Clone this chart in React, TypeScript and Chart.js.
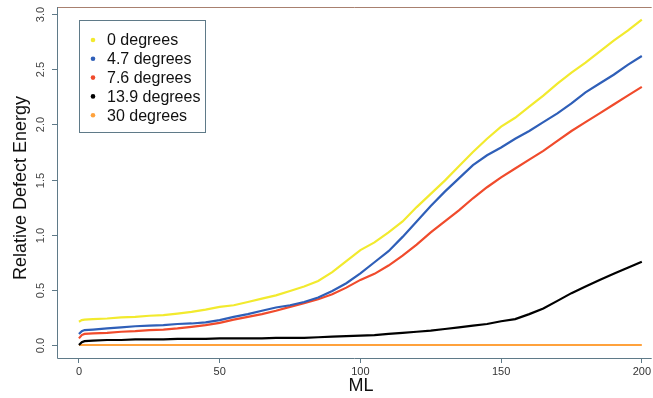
import React, { useEffect, useRef } from "react";
import { Chart, registerables } from "chart.js";

Chart.register(...registerables);

const FONT = "'Liberation Sans', Arial, Helvetica, sans-serif";

const ML = [0, 1, 2, 5, 10, 15, 20, 25, 30, 35, 40, 45, 50, 55, 60, 65, 70, 75, 80, 85, 90, 95, 100,
  105, 110, 115, 120, 125, 130, 135, 140, 145, 150, 155, 160, 165, 170, 175, 180, 185, 190, 195, 200];

const DEG_0 = [0.21, 0.225, 0.23, 0.235, 0.24, 0.25, 0.255, 0.265, 0.27, 0.285, 0.3, 0.32, 0.345, 0.36,
  0.39, 0.42, 0.45, 0.49, 0.53, 0.58, 0.66, 0.76, 0.86, 0.93, 1.02, 1.12, 1.25, 1.37, 1.49, 1.62, 1.75,
  1.87, 1.98, 2.06, 2.16, 2.26, 2.37, 2.47, 2.56, 2.66, 2.76, 2.85, 2.95];

const DEG_4_7 = [0.1, 0.125, 0.135, 0.14, 0.15, 0.16, 0.17, 0.175, 0.18, 0.19, 0.195, 0.205, 0.225, 0.255,
  0.28, 0.31, 0.34, 0.36, 0.39, 0.43, 0.49, 0.56, 0.65, 0.75, 0.85, 0.98, 1.12, 1.26, 1.39, 1.51, 1.63,
  1.72, 1.79, 1.87, 1.94, 2.02, 2.1, 2.19, 2.29, 2.37, 2.45, 2.54, 2.62];

const DEG_7_6 = [0.06, 0.09, 0.1, 0.105, 0.11, 0.12, 0.125, 0.135, 0.14, 0.15, 0.165, 0.18, 0.2, 0.23,
  0.255, 0.28, 0.31, 0.345, 0.38, 0.415, 0.46, 0.52, 0.59, 0.645, 0.72, 0.81, 0.91, 1.02, 1.12, 1.22,
  1.33, 1.43, 1.52, 1.6, 1.68, 1.76, 1.85, 1.94, 2.02, 2.1, 2.18, 2.26, 2.34];

const DEG_13_9 = [0.0, 0.025, 0.035, 0.04, 0.045, 0.045, 0.05, 0.05, 0.05, 0.055, 0.055, 0.055, 0.06,
  0.06, 0.06, 0.06, 0.065, 0.065, 0.065, 0.07, 0.075, 0.08, 0.085, 0.09, 0.1, 0.11, 0.12, 0.13, 0.145,
  0.16, 0.175, 0.19, 0.215, 0.235, 0.28, 0.33, 0.4, 0.47, 0.53, 0.59, 0.645, 0.7, 0.755];

const DEG_30 = [0.0, 0.0, 0.0, 0.0, 0.0, 0.0, 0.0, 0.0, 0.0, 0.0, 0.0, 0.0, 0.0, 0.0, 0.0, 0.0, 0.0, 0.0,
  0.0, 0.0, 0.0, 0.0, 0.0, 0.0, 0.0, 0.0, 0.0, 0.0, 0.0, 0.0, 0.0, 0.0, 0.0, 0.0, 0.0, 0.0, 0.0, 0.0,
  0.0, 0.0, 0.0, 0.0, 0.0];

const SERIES_LABELS = ["0 degrees", "4.7 degrees", "7.6 degrees", "13.9 degrees", "30 degrees"];
const SERIES_VALUES = [DEG_0, DEG_4_7, DEG_7_6, DEG_13_9, DEG_30];
const SERIES_COLORS = ["#f2ea2e", "#2f5fb8", "#f04b2c", "#000000", "#ffa23c"];

const X_TICKS = [0, 50, 100, 150, 200];
const Y_TICKS = [0, 0.5, 1.0, 1.5, 2.0, 2.5, 3.0];
const Y_TICK_LABELS = ["0.0", "0.5", "1.0", "1.5", "2.0", "2.5", "3.0"];

const X_TITLE = "ML";
const Y_TITLE = "Relative Defect Energy";

const decorPlugin = {
  id: "decor",
  afterDraw(chart: any) {
    const ctx = chart.ctx;
    const { left, top, right, bottom } = chart.chartArea;
    const ys = chart.scales.y;
    ctx.save();
    // frame
    ctx.lineWidth = 1;
    ctx.strokeStyle = "#a8806f";
    ctx.beginPath();
    ctx.moveTo(left, top + 0.5);
    ctx.lineTo(right, top + 0.5);
    ctx.stroke();
    ctx.strokeStyle = "#5f7a88";
    ctx.beginPath();
    ctx.moveTo(left + 0.5, top);
    ctx.lineTo(left + 0.5, bottom + 0.5);
    ctx.lineTo(right, bottom + 0.5);
    ctx.stroke();

    // y ticks & rotated labels
    ctx.strokeStyle = "#5f7a88";
    ctx.fillStyle = "#444";
    ctx.font = `11px ${FONT}`;
    ctx.textAlign = "center";
    ctx.textBaseline = "middle";
    Y_TICKS.forEach((v, i) => {
      const y = Math.round(ys.getPixelForValue(v)) + 0.5;
      ctx.beginPath();
      ctx.moveTo(left - 5, y);
      ctx.lineTo(left, y);
      ctx.stroke();
      ctx.save();
      ctx.translate(41, y);
      ctx.rotate(-Math.PI / 2);
      ctx.fillText(Y_TICK_LABELS[i], 0, 0);
      ctx.restore();
    });

    // titles
    ctx.fillStyle = "#111";
    ctx.font = `18px ${FONT}`;
    ctx.save();
    ctx.translate(21, 188);
    ctx.rotate(-Math.PI / 2);
    ctx.fillText(Y_TITLE, 0, 0);
    ctx.restore();
    ctx.fillText(X_TITLE, 361, 386);

    // legend
    const lx = 79, ly = 20, lw = 126, lh = 112;
    ctx.fillStyle = "#ffffff";
    ctx.fillRect(lx, ly, lw, lh);
    ctx.strokeStyle = "#5f7a88";
    ctx.strokeRect(lx + 0.5, ly + 0.5, lw, lh);
    ctx.font = `16px ${FONT}`;
    ctx.textAlign = "left";
    SERIES_LABELS.forEach((lab, i) => {
      const cy = 40 + i * 18.8;
      ctx.fillStyle = SERIES_COLORS[i];
      ctx.beginPath();
      ctx.arc(93, cy, 2.3, 0, Math.PI * 2);
      ctx.fill();
      ctx.fillStyle = "#111";
      ctx.fillText(lab, 107, cy + 1);
    });
    ctx.restore();
  },
};

export default function App() {
  const ref = useRef<HTMLCanvasElement>(null);
  useEffect(() => {
    if (!ref.current) return;
    const chart = new Chart(ref.current, {
      type: "line",
      data: {
        datasets: SERIES_VALUES.map((vals, i) => ({
          label: SERIES_LABELS[i],
          data: ML.map((x, j) => ({ x, y: vals[j] })),
          borderColor: SERIES_COLORS[i],
          backgroundColor: SERIES_COLORS[i],
          borderWidth: 2.2,
          pointRadius: 0,
          tension: 0,
          fill: false,
        })),
      },
      options: {
        responsive: false,
        animation: false,
        layout: { padding: { top: 7, left: 0, right: 0, bottom: 0 } },
        plugins: { legend: { display: false }, tooltip: { enabled: false } },
        scales: {
          x: {
            type: "linear",
            min: -7.8,
            max: 203.5,
            afterBuildTicks: (s: any) => {
              s.ticks = X_TICKS.map((v) => ({ value: v }));
            },
            afterFit: (s: any) => {
              s.height = 40;
            },
            border: { display: false },
            grid: { display: true, drawOnChartArea: false, drawTicks: true, tickLength: 5, color: "#5f7a88" },
            ticks: {
              autoSkip: false,
              maxRotation: 0,
              padding: 2,
              color: "#333",
              font: { size: 11, family: FONT },
            },
          },
          y: {
            type: "linear",
            min: -0.118,
            max: 3.064,
            afterFit: (s: any) => {
              s.width = 57;
            },
            border: { display: false },
            grid: { display: false },
            ticks: { display: false },
          },
        },
      },
      plugins: [decorPlugin],
    });
    return () => chart.destroy();
  }, []);
  return (
    <div style={{ position: "fixed", left: 0, top: 0, width: 653, height: 398, background: "#fff" }}>
      <canvas ref={ref} width={653} height={398} />
    </div>
  );
}
